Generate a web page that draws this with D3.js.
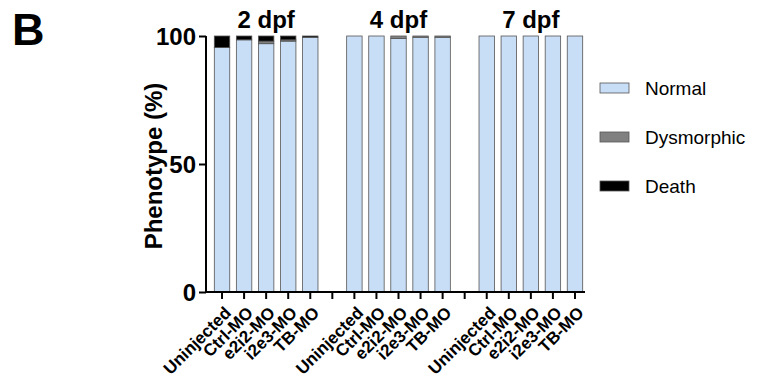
<!DOCTYPE html>
<html><head><meta charset="utf-8">
<script src="https://cdn.jsdelivr.net/npm/d3@7"></script>
<style>body{margin:0;background:#fff}svg{display:block}text{font-family:"Liberation Sans",Arial,sans-serif}</style>
</head><body><svg id="c" width="760" height="378"></svg>
<script>
const groups = ["2 dpf", "4 dpf", "7 dpf"];
const conditions = ["Uninjected", "Ctrl-MO", "e2i2-MO", "i2e3-MO", "TB-MO"];
const seriesNames = ["Normal", "Dysmorphic", "Death"];
const normal = [[95.5, 98.5, 97, 98, 99.5], [100, 100, 99, 99.5, 99.5], [100, 100, 100, 100, 100]];
const dysmorphic = [[0, 0, 1, 0.5, 0], [0, 0, 1, 0.5, 0.5], [0, 0, 0, 0, 0]];
const death = [[4.5, 1.5, 2, 1.5, 0.5], [0, 0, 0, 0, 0], [0, 0, 0, 0, 0]];
const yTicks = [0, 50, 100];
const colors = ["#c8ddf6", "#808080", "#000000"];

const svg = d3.select("#c");
const slots = [];
const rows = [];
groups.forEach((g, gi) => {
  conditions.forEach((c, ci) => {
    const key = g + "|" + c;
    slots.push(key);
    rows.push({key, label: c, group: g, Normal: normal[gi][ci], Dysmorphic: dysmorphic[gi][ci], Death: death[gi][ci]});
  });
  if (gi < groups.length - 1) slots.push("gap" + gi);
});

const x = d3.scaleBand().domain(slots).range([211, 586]).paddingInner(0.3).paddingOuter(0.15);
const y = d3.scaleLinear().domain([0, 100]).range([292, 36]);
const stack = d3.stack().keys(seriesNames)(rows);

svg.append("g").selectAll("g").data(stack).join("g")
  .attr("fill", (d, i) => colors[i])
  .selectAll("rect").data(d => d.map(v => ({v, key: v.data.key}))).join("rect")
  .attr("x", d => x(d.key))
  .attr("width", x.bandwidth())
  .attr("y", d => y(d.v[1]))
  .attr("height", d => Math.max(0, y(d.v[0]) - y(d.v[1])))
  .attr("stroke", d => (d.v[1] - d.v[0]) > 0 ? "#555" : "none")
  .attr("stroke-width", 0.8);

// Y axis
const yAxis = svg.append("g").attr("transform", "translate(206,0)")
  .call(d3.axisLeft(y).tickValues(yTicks).tickSize(7).tickPadding(3));
yAxis.select(".domain").attr("stroke-width", 2).attr("d", "M0," + y(100) + "V" + (y(0)+1));
yAxis.selectAll(".tick line").attr("stroke-width", 2);
yAxis.selectAll("text").attr("font-size", 24).attr("font-weight", "bold").attr("fill", "#000").attr("dy", "0.36em");

// X axis
const xAxis = svg.append("g").attr("transform", "translate(0,292)")
  .call(d3.axisBottom(x).tickSize(7).tickFormat(d => { const r = rows.find(r => r.key === d); return r ? r.label : ""; }));
xAxis.select(".domain").attr("stroke-width", 2).attr("d", "M205,0H585");
xAxis.selectAll(".tick line").attr("stroke-width", 2);
xAxis.selectAll("text").attr("font-size", 17).attr("font-weight", "bold").attr("fill", "#000")
  .attr("text-anchor", "end").attr("dy", "0").attr("y", 0)
  .attr("transform", "translate(10,22) rotate(-45)");

// group titles
groups.forEach(g => {
  const ks = conditions.map(c => g + "|" + c);
  const cx = (x(ks[0]) + x(ks[ks.length - 1]) + x.bandwidth()) / 2;
  svg.append("text").attr("x", cx).attr("y", 28).attr("text-anchor", "middle")
    .attr("font-size", 24).attr("font-weight", "bold").text(g);
});

// Y label
svg.append("text").attr("transform", "translate(162,166) rotate(-90)").attr("text-anchor", "middle")
  .attr("font-size", 24).attr("font-weight", "bold").text("Phenotype (%)");

// Panel letter
svg.append("text").attr("x", 12).attr("y", 45).attr("font-size", 45).attr("font-weight", "bold").text("B");

// Legend
const legY = [88, 137, 186];
seriesNames.forEach((s, i) => {
  svg.append("rect").attr("x", 600).attr("y", legY[i] - 5).attr("width", 29).attr("height", 10)
    .attr("fill", colors[i]).attr("stroke", "#555").attr("stroke-width", 0.8);
  svg.append("text").attr("x", 645).attr("y", legY[i]).attr("dy", "0.35em").attr("font-size", 19).text(s);
});
</script></body></html>
